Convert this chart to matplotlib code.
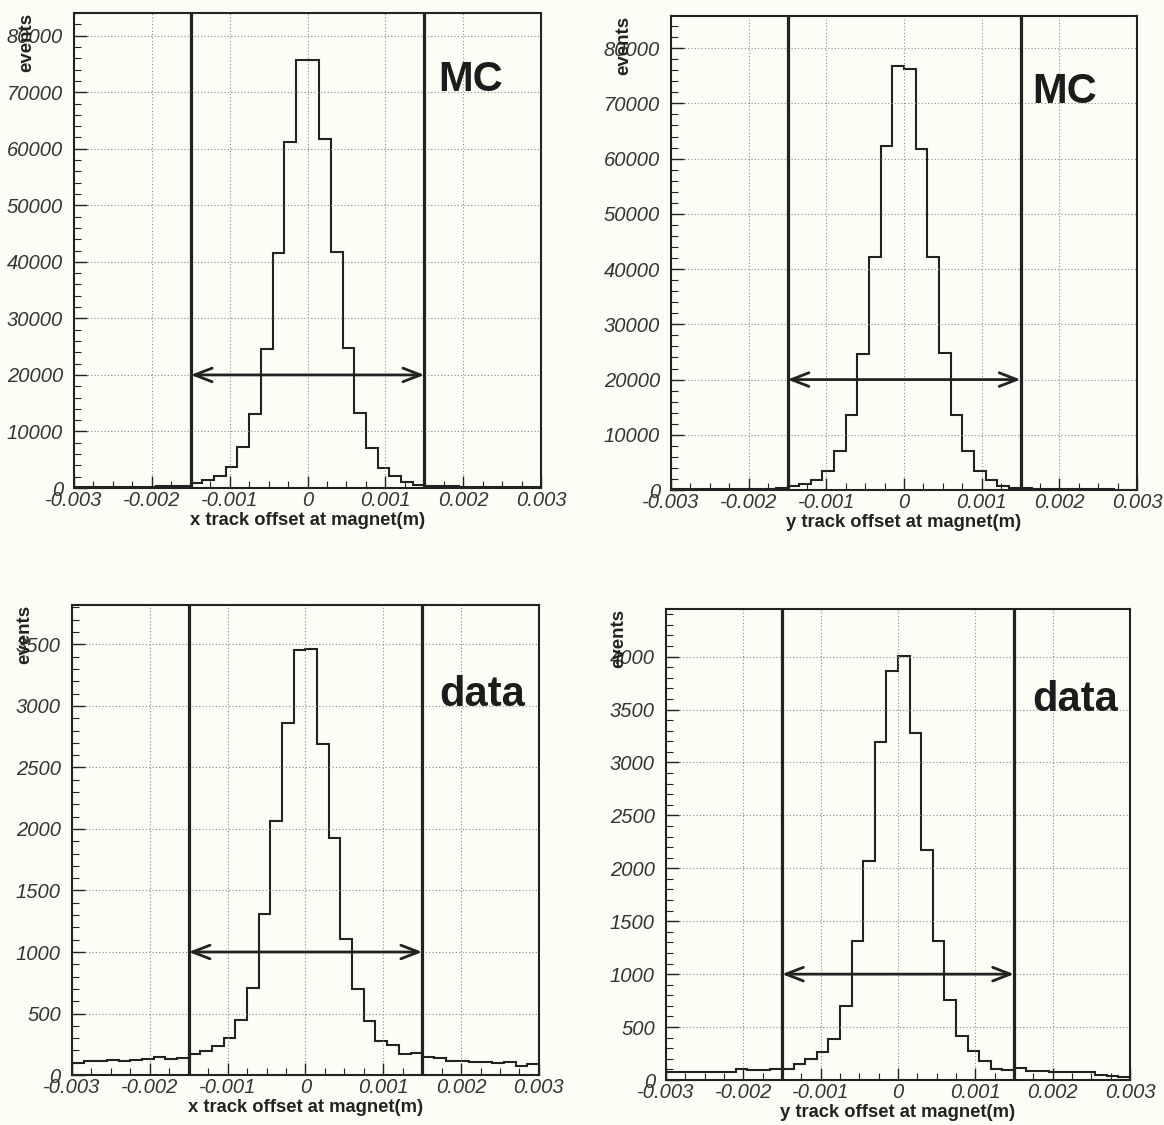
import numpy as np
import matplotlib
matplotlib.use("Agg")
import matplotlib.pyplot as plt
from matplotlib.ticker import MultipleLocator, FuncFormatter

plt.rcParams['font.family'] = ['Liberation Sans', 'DejaVu Sans']
plt.rcParams['font.style'] = 'italic'
plt.rcParams['axes.unicode_minus'] = False

# 40 bins from -3 mm to +3 mm
x_lo, x_hi, n_bins = -0.003, 0.003, 40
cut = 0.0015

mc_x = [150, 160, 170, 180, 200, 220, 240, 280, 320, 370,
        850, 1400, 2200, 3800, 7300, 13100, 24600, 41600, 61200, 75700,
        75700, 61800, 41800, 24800, 13200, 7100, 3600, 2050, 1050, 600,
        420, 340, 290, 250, 220, 190, 170, 150, 130, 120]
mc_y = [100, 110, 120, 130, 150, 170, 190, 230, 280, 350,
        700, 1100, 1900, 3500, 7000, 13500, 24700, 42200, 62300, 76800,
        76300, 61700, 42200, 24800, 13500, 7000, 3500, 1800, 800, 400,
        330, 270, 220, 180, 150, 130, 110, 100, 90, 80]
data_x = [95, 114, 114, 122, 114, 120, 128, 147, 128, 139,
          168, 196, 235, 300, 450, 705, 1310, 2065, 2865, 3455,
          3462, 2690, 1930, 1105, 700, 442, 273, 243, 175, 182,
          150, 136, 114, 114, 109, 109, 95, 106, 73, 92]
data_y = [80, 80, 72, 72, 80, 80, 103, 95, 95, 103,
          106, 152, 200, 260, 385, 700, 1310, 2065, 3195, 3865,
          4010, 3275, 2175, 1315, 755, 416, 271, 184, 105, 92,
          110, 88, 85, 80, 76, 78, 80, 48, 42, 32]

panels = [
    # values, xlabel, tag, ymax, major, minor, arrow height, axes rect, tag pos
    (mc_x, 'x track offset at magnet(m)', 'MC', 84000, 10000, 2000, 20000,
     [0.0636, 0.5662, 0.4012, 0.4222], (0.78, 0.86)),
    (mc_y, 'y track offset at magnet(m)', 'MC', 85800, 10000, 2000, 20000,
     [0.5765, 0.5644, 0.4003, 0.4213], (0.775, 0.84)),
    (data_x, 'x track offset at magnet(m)', 'data', 3820, 500, 100, 1000,
     [0.0618, 0.0444, 0.4012, 0.4178], (0.787, 0.808)),
    (data_y, 'y track offset at magnet(m)', 'data', 4450, 500, 100, 1000,
     [0.5722, 0.0400, 0.3986, 0.4187], (0.79, 0.806)),
]

ink = '#222222'
paper = '#fdfcf5'
edges = np.linspace(x_lo, x_hi, n_bins + 1)

fig = plt.figure(figsize=(11.64, 11.25), dpi=100, facecolor=paper)

for vals, xlab, tag, ymax, major, minor, arr_y, rect, tag_pos in panels:
    ax = fig.add_axes(rect)
    ax.set_facecolor(paper)
    ax.stairs(vals, edges, color=ink, lw=1.5)

    ax.set_xlim(x_lo, x_hi)
    ax.set_ylim(0, ymax)

    # selection window and its width marker
    for xc in (-cut, cut):
        ax.axvline(xc, color=ink, lw=2.3)
    ax.annotate('', xy=(cut, arr_y), xytext=(-cut, arr_y),
                arrowprops=dict(arrowstyle='<->,head_length=0.9,head_width=0.35',
                                color=ink, lw=2, shrinkA=0, shrinkB=0,
                                mutation_scale=14))

    ax.xaxis.set_major_locator(MultipleLocator(0.001))
    ax.xaxis.set_minor_locator(MultipleLocator(0.00025))
    ax.yaxis.set_major_locator(MultipleLocator(major))
    ax.yaxis.set_minor_locator(MultipleLocator(minor))
    ax.xaxis.set_major_formatter(FuncFormatter(
        lambda v, p: '0' if abs(v) < 1e-9 else f'{v:.3f}'))
    ax.yaxis.set_major_formatter(FuncFormatter(lambda v, p: f'{v:.0f}'))

    ax.tick_params(which='both', direction='in', top=False, right=False,
                   colors=ink, labelcolor='#333333', labelsize=14.5)
    ax.tick_params(which='major', length=9, width=1)
    ax.tick_params(which='minor', length=5, width=0.8)
    ax.tick_params(axis='x', pad=2)
    ax.tick_params(axis='y', pad=8)

    ax.grid(True, which='major', color='#8a8a8a', ls=(0, (1, 2)), lw=0.8)
    for sp in ax.spines.values():
        sp.set_color(ink)
        sp.set_linewidth(1.5)

    ax.set_xlabel(xlab, fontsize=13.2, fontweight='bold', fontstyle='normal',
                  color=ink)
    ax.xaxis.set_label_coords(0.5, -0.051)
    ax.set_ylabel('events', fontsize=13.5, fontweight='bold',
                  fontstyle='normal', color=ink, loc='top')
    ax.yaxis.set_label_coords(-0.083, 1.0)

    ax.text(tag_pos[0], tag_pos[1], tag, transform=ax.transAxes,
            fontsize=30, fontweight='bold', fontstyle='normal',
            color='#1c1c1c', ha='left', va='center')

fig.savefig('out.png', dpi=100, facecolor=paper)
